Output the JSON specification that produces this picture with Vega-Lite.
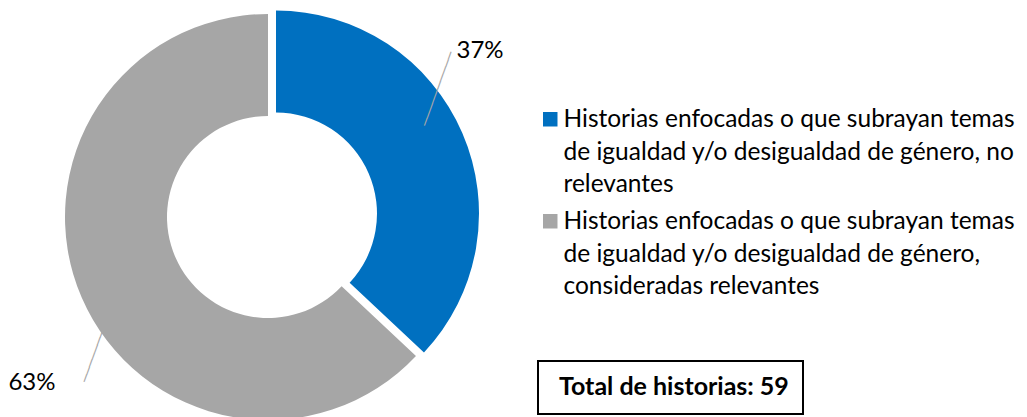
{
  "$schema": "https://vega.github.io/schema/vega-lite/v6.json",
  "width": 536,
  "height": 400,
  "autosize": {"type": "none"},
  "padding": {"left": 0, "top": 17, "right": 491, "bottom": 0},
  "background": "white",
  "config": {"view": {"stroke": null}, "font": "Lato"},
  "data": {
    "values": [
      {"categoria": "Historias enfocadas o que subrayan temas de igualdad y/o desigualdad de género, no relevantes", "pct": 0.37},
      {"categoria": "Historias enfocadas o que subrayan temas de igualdad y/o desigualdad de género, consideradas relevantes", "pct": 0.63}
    ]
  },
  "encoding": {
    "theta": {"field": "pct", "type": "quantitative", "stack": true},
    "order": {"field": "pct", "sort": "ascending"}
  },
  "layer": [
    {
      "mark": {"type": "arc", "radius": 203, "radius2": 101},
      "encoding": {
        "color": {
          "field": "categoria",
          "type": "nominal",
          "scale": {
            "domain": [
              "Historias enfocadas o que subrayan temas de igualdad y/o desigualdad de género, no relevantes",
              "Historias enfocadas o que subrayan temas de igualdad y/o desigualdad de género, consideradas relevantes"
            ],
            "range": ["#0070C0", "#A6A6A6"]
          },
          "legend": {
            "orient": "none",
            "legendX": 538,
            "legendY": 90,
            "title": null,
            "symbolType": "square",
            "symbolSize": 210,
            "symbolStrokeWidth": 0,
            "labelFont": "Lato",
            "labelFontSize": 24.5,
            "labelColor": "#000000",
            "labelOffset": 1,
            "labelLimit": 1000,
            "labelBaseline": "alphabetic",
            "rowPadding": 12,
            "labelExpr": "split(trim(replace(datum.label, regexp('(.{1,41})( |$)', 'g'), '$1\\n')), '\\n')",
            "encoding": {"labels": {"dy": {"value": 8}, "lineHeight": {"value": 32.5}}}
          }
        },
        "fillOpacity": {"condition": {"test": "datum.pct < 0.5", "value": 0}, "value": 1}
      }
    },
    {
      "mark": {"type": "arc", "radius": 203, "radius2": 101, "xOffset": 8, "yOffset": -3.5},
      "encoding": {
        "color": {"field": "categoria", "type": "nominal"},
        "fillOpacity": {"condition": {"test": "datum.pct > 0.5", "value": 0}, "value": 1}
      }
    },
    {
      "mark": {"type": "text", "radius": 213, "thetaOffset": -0.237, "text": "──────────", "font": "DejaVu Sans", "fontSize": 13, "angle": -70, "color": "#A6A6A6"}
    },
    {
      "mark": {"type": "text", "radius": 279, "thetaOffset": -0.23, "dx": -12, "fontSize": 24, "font": "Lato", "color": "#000000"},
      "encoding": {
        "text": {"field": "pct", "type": "quantitative", "format": ".0%"},
        "opacity": {
          "datum": "Total de historias: 59",
          "type": "nominal",
          "scale": {"range": [1, 1]},
          "legend": {
            "orient": "none",
            "legendX": 538,
            "legendY": 344,
            "title": null,
            "strokeColor": "#000000",
            "padding": 13.5,
            "symbolSize": 0,
            "symbolStrokeWidth": 0,
            "symbolOpacity": 0,
            "symbolFillColor": "transparent",
            "symbolStrokeColor": "transparent",
            "labelFont": "Lato",
            "labelFontSize": 25,
            "labelFontWeight": "bold",
            "labelColor": "#000000",
            "labelOffset": -17.5,
            "labelLimit": 1000,
            "labelExpr": "datum.label + '\u2003'",
            "encoding": {"legend": {"strokeWidth": {"value": 2}}, "symbols": {"opacity": {"value": 0}}}
          }
        }
      }
    }
  ]
}
